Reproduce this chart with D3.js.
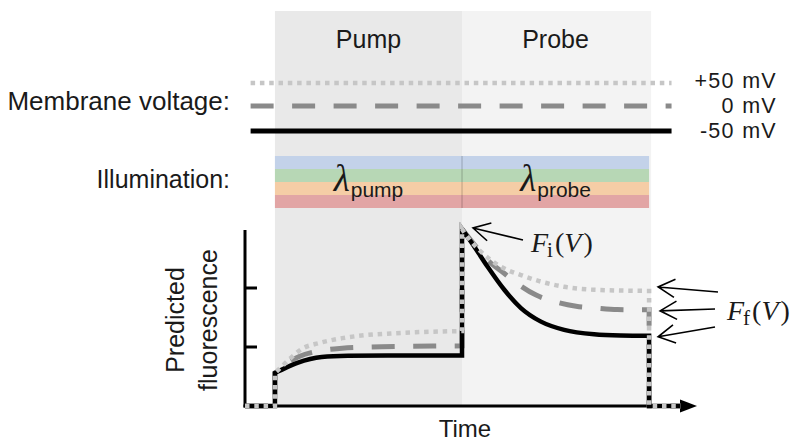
<!DOCTYPE html>
<html><head><meta charset="utf-8">
<script src="https://cdn.jsdelivr.net/npm/d3@7"></script>
<style>html,body{margin:0;padding:0;background:#fff;} svg{display:block;}</style>
</head><body><svg id="chart" width="798" height="443"></svg>
<script>
// ---------------- data ----------------
const phases = ["Pump", "Probe"];
const phaseStart = [0, 1];
const phaseEnd = [1, 2];
const illumSub = ["pump", "probe"];
const voltageLabels = ["+50 mV", "0 mV", "-50 mV"];
const yTicks = [1, 2];

// Pump phase (time 0..1)
const tPumpNeg50 = [0, 0.06, 0.12, 0.25, 0.39, 0.6, 0.8, 1.0];
const fPumpNeg50 = [0.56, 0.65, 0.73, 0.83, 0.85, 0.855, 0.855, 0.855];
const tPump0 = [0, 0.06, 0.13, 0.23, 0.36, 0.5, 0.7, 1.0];
const fPump0 = [0.56, 0.72, 0.84, 0.93, 0.98, 1.0, 1.01, 1.02];
const tPumpPos50 = [0, 0.04, 0.08, 0.14, 0.24, 0.36, 0.48, 0.62, 0.75, 1.0];
const fPumpPos50 = [0.56, 0.68, 0.80, 0.96, 1.07, 1.15, 1.20, 1.23, 1.25, 1.27];
// Probe phase (time 1..2)
const tProbeNeg50 = [1.0, 1.066, 1.137, 1.226, 1.315, 1.422, 1.546, 1.706, 1.849, 2.0];
const fProbeNeg50 = [3.0, 2.70, 2.36, 1.97, 1.66, 1.43, 1.29, 1.215, 1.195, 1.19];
const tProbe0 = [1.0, 1.07, 1.145, 1.225, 1.307, 1.396, 1.494, 1.61, 1.715, 1.83, 2.0];
const fProbe0 = [3.0, 2.72, 2.45, 2.25, 2.05, 1.88, 1.77, 1.69, 1.66, 1.635, 1.63];
const tProbePos50 = [1.0, 1.04, 1.093, 1.155, 1.226, 1.315, 1.42, 1.546, 1.706, 2.0];
const fProbePos50 = [3.0, 2.82, 2.64, 2.47, 2.33, 2.22, 2.11, 2.02, 1.97, 1.95];

// ---------------- chart ----------------
const svg = d3.select("#chart");
const SANS = "'Liberation Sans', Arial, sans-serif";
const SERIF = "'Liberation Serif', 'Times New Roman', serif";
const TXT = "#1a1a1a";

const x = d3.scaleLinear().domain([-0.16, 2.24]).range([245, 694]);
const y = d3.scaleLinear().domain([0, 3]).range([406, 229]);

// shaded phase backgrounds
const shade = ["#e9e9e9", "#f3f3f3"];
svg.selectAll("rect.phase").data(phases).join("rect")
  .attr("x", (d, i) => x(phaseStart[i]))
  .attr("y", 11)
  .attr("width", (d, i) => x(phaseEnd[i]) - x(phaseStart[i]) + (i === 1 ? 2 : 0))
  .attr("height", 394)
  .attr("fill", (d, i) => shade[i]);

// phase titles
svg.selectAll("text.phase").data(phases).join("text")
  .attr("x", (d, i) => x((phaseStart[i] + phaseEnd[i]) / 2))
  .attr("y", 48)
  .attr("text-anchor", "middle")
  .attr("font-family", SANS).attr("font-size", 25).attr("fill", TXT)
  .text(d => d);

// membrane voltage lines
const vStyles = [
  {stroke: "#c6c6c6", width: 4.5, dash: "4.5,4.8"},
  {stroke: "#8a8a8a", width: 5, dash: "23,18.5"},
  {stroke: "#000000", width: 5, dash: null}
];
const vY = [83, 106, 131];
const vLabY = [88, 113, 138];
voltageLabels.forEach((lab, i) => {
  svg.append("line")
    .attr("x1", x(-0.13)).attr("x2", x(2.12))
    .attr("y1", vY[i]).attr("y2", vY[i])
    .attr("stroke", vStyles[i].stroke).attr("stroke-width", vStyles[i].width)
    .attr("stroke-dasharray", vStyles[i].dash);
  svg.append("text")
    .attr("x", 777).attr("y", vLabY[i])
    .attr("text-anchor", "end")
    .attr("font-family", SANS).attr("font-size", 21.5).attr("fill", TXT)
    .attr("letter-spacing", 1.3)
    .text(lab);
});

svg.append("text").attr("x", 230).attr("y", 110).attr("text-anchor", "end")
  .attr("font-family", SANS).attr("font-size", 26).attr("fill", TXT)
  .text("Membrane voltage:");
svg.append("text").attr("x", 230).attr("y", 188).attr("text-anchor", "end")
  .attr("font-family", SANS).attr("font-size", 25).attr("fill", TXT)
  .text("Illumination:");

// illumination bands
const bandColors = ["#c3d2e9", "#b7d7b5", "#f5cda6", "#e2a5a5"];
const bandTop = 156, bandH = 13;
bandColors.forEach((c, j) => {
  svg.append("rect")
    .attr("x", x(0)).attr("y", bandTop + j * bandH)
    .attr("width", x(2) - x(0)).attr("height", bandH)
    .attr("fill", c);
  svg.append("line")
    .attr("x1", x(1)).attr("x2", x(1))
    .attr("y1", bandTop + j * bandH).attr("y2", bandTop + (j + 1) * bandH)
    .attr("stroke", d3.color(c).darker(0.6)).attr("stroke-width", 1.2);
});

// lambda labels
illumSub.forEach((s, i) => {
  const t = svg.append("text")
    .attr("x", x((phaseStart[i] + phaseEnd[i]) / 2))
    .attr("y", 191)
    .attr("text-anchor", "middle").attr("fill", TXT);
  t.append("tspan").attr("font-family", SERIF).attr("font-style", "italic")
    .attr("font-size", 37).text("λ");
  t.append("tspan").attr("font-family", SANS).attr("font-size", 21)
    .attr("dy", 6).attr("dx", 1).text(s);
});

// axes
svg.append("line").attr("x1", x(-0.16)).attr("x2", x(-0.16))
  .attr("y1", y(3) + 1).attr("y2", y(0) + 1.5)
  .attr("stroke", "#000").attr("stroke-width", 3);
yTicks.forEach(v => {
  svg.append("line").attr("x1", x(-0.16)).attr("x2", x(-0.16) + 12)
    .attr("y1", y(v)).attr("y2", y(v))
    .attr("stroke", "#000").attr("stroke-width", 3);
});
svg.append("line").attr("x1", x(-0.16) - 1.5).attr("x2", 684)
  .attr("y1", y(0)).attr("y2", y(0))
  .attr("stroke", "#000").attr("stroke-width", 3);
svg.append("path").attr("d", `M680,${y(0) - 6.5}L697,${y(0)}L680,${y(0) + 6.5}Z`)
  .attr("fill", "#000");

// fluorescence series
const lin = d3.line().x(d => x(d[0])).y(d => y(d[1]));
const crv = d3.line().x(d => x(d[0])).y(d => y(d[1])).curve(d3.curveMonotoneX);
function seriesPath(tp, fp, tq, fq) {
  const pre = [[-0.16, 0], [0, 0]];
  const pump = tp.map((t, i) => [t, fp[i]]);
  const probe = tq.map((t, i) => [t, fq[i]]);
  const post = [[2, 0], [2.17, 0]];
  return lin(pre) + crv(pump).replace(/^M/, "L") + crv(probe).replace(/^M/, "L")
    + lin(post).replace(/^M/, "L");
}
const series = [
  {d: seriesPath(tPump0, fPump0, tProbe0, fProbe0), s: vStyles[1]},
  {d: seriesPath(tPumpNeg50, fPumpNeg50, tProbeNeg50, fProbeNeg50), s: {stroke: "#000", width: 4.5, dash: null}},
  {d: seriesPath(tPumpPos50, fPumpPos50, tProbePos50, fProbePos50), s: vStyles[0]}
];
series.forEach(o => {
  svg.append("path").attr("d", o.d).attr("fill", "none")
    .attr("stroke", o.s.stroke).attr("stroke-width", o.s.width)
    .attr("stroke-dasharray", o.s.dash).attr("stroke-linejoin", "miter");
});

// arrows
function arrow(tx, ty, sx, sy) {
  const a = Math.atan2(sy - ty, sx - tx);
  const L = 19, h = 0.5;
  const p1 = [tx + L * Math.cos(a - h), ty + L * Math.sin(a - h)];
  const p2 = [tx + L * Math.cos(a + h), ty + L * Math.sin(a + h)];
  svg.append("path")
    .attr("d", `M${sx},${sy}L${tx},${ty}M${p1[0]},${p1[1]}L${tx},${ty}L${p2[0]},${p2[1]}`)
    .attr("fill", "none").attr("stroke", "#000").attr("stroke-width", 1.6);
}
arrow(x(1) + 11, y(3) - 1, 523, 240);
arrow(x(2) + 9, y(fProbePos50[fProbePos50.length - 1]) - 4, 718, 292);
arrow(x(2) + 11, y(fProbe0[fProbe0.length - 1]) + 1, 715, 309);
arrow(x(2) + 9, y(fProbeNeg50[fProbeNeg50.length - 1]) + 1, 715, 327);

function fLabel(px, py, sub) {
  const t = svg.append("text").attr("x", px).attr("y", py)
    .attr("font-family", SERIF).attr("font-size", 28).attr("fill", TXT);
  t.append("tspan").attr("font-style", "italic").text("F");
  t.append("tspan").attr("font-size", 21).attr("dy", 5).attr("dx", -1).text(sub);
  t.append("tspan").attr("dy", -5).attr("dx", 2).text("(");
  t.append("tspan").attr("font-style", "italic").text("V");
  t.append("tspan").attr("dx", 2).text(")");
}
fLabel(531, 252, "i");
fLabel(727, 320, "f");

// axis labels
svg.append("text").attr("x", 465).attr("y", 437).attr("text-anchor", "middle")
  .attr("font-family", SANS).attr("font-size", 24).attr("fill", TXT).text("Time");
[["Predicted", 184], ["fluorescence", 217]].forEach(([s, bx]) => {
  svg.append("text").attr("transform", `translate(${bx},320) rotate(-90)`)
    .attr("text-anchor", "middle")
    .attr("font-family", SANS).attr("font-size", 25).attr("fill", TXT).text(s);
});
</script></body></html>
